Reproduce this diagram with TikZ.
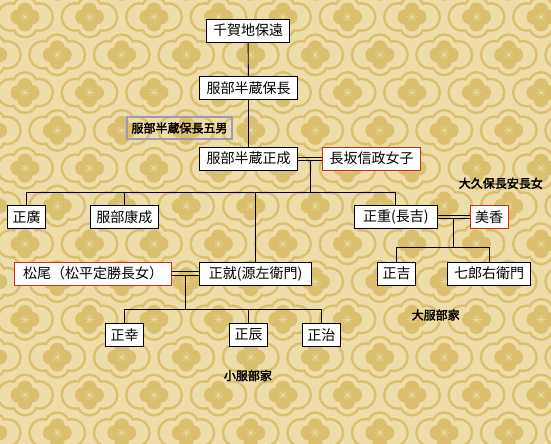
\documentclass[tikz,border=0pt]{standalone}
\usepackage{fontspec}
\setmainfont{Noto Sans CJK JP}
\newfontfamily\heavyjp[FakeBold=2.5]{Noto Sans CJK JP}
\usetikzlibrary{calc}

\definecolor{cream}{RGB}{237,221,168}
\definecolor{gold}{RGB}{217,191,110}
\definecolor{wifered}{RGB}{205,45,30}
\definecolor{notegray}{RGB}{160,152,180}

\tikzset{
  person/.style={draw=black, fill=white, line width=0.9pt, inner sep=0pt,
    minimum height=23pt, font=\fontsize{14}{14}\selectfont},
  wife/.style={person, draw=wifered},
  note/.style={font=\heavyjp\fontsize{12}{12}\selectfont, inner sep=0pt},
  flower/.pic={
    % cloud band
    \draw[gold, line width=5pt] (14,0) circle (12.5) (-14,0) circle (12.5)
      (0,8) circle (11) (0,-8) circle (11);
    \fill[cream] (14,0) circle (12.5) (-14,0) circle (12.5)
      (0,8) circle (11) (0,-8) circle (11);
    % flower
    \fill[gold] (0,-7) circle (7.5) (0,7) circle (7.5) (-7,0) circle (7.5) (7,0) circle (7.5);
    \draw[cream, line width=0.5pt] (-5,0) -- (5,0) (0,-5) -- (0,5)
      (-3.5,-3.5) -- (3.5,3.5) (-3.5,3.5) -- (3.5,-3.5);
  }
}

\begin{document}
\begin{tikzpicture}[x=1pt,y=-1pt]
  \useasboundingbox (0,0) rectangle (551,444);

  % Background pattern
  \begin{scope}
    \clip (0,0) rectangle (551,444);
    \fill[cream] (0,0) rectangle (551,444);
    \foreach \r in {-1,...,12} {
      \foreach \c in {-1,...,9} {
        \pgfmathsetmacro{\px}{25+64.5*\c+32.25*mod(\r+2,2)}
        \pgfmathsetmacro{\py}{17+37.8*\r}
        \pic at (\px,\py) {flower};
      }
    }
  \end{scope}

  % Generations
  \node[person, minimum width=82.6pt] (n1) at (248,30.7) {千賀地保遠};
  \node[person, minimum width=98.4pt] (n2) at (248.5,88) {服部半蔵保長};
  \node[person, minimum width=98.4pt] (n3) at (248.5,158.7) {服部半蔵正成};
  \node[wife, minimum width=98pt] (w3) at (371.7,158.7) {長坂信政女子};

  \node[person, minimum width=38pt] (c1) at (26.7,217) {正廣};
  \node[person, minimum width=67.3pt] (c2) at (124.3,217) {服部康成};
  \node[person, minimum width=83.3pt] (c3) at (395.8,217) {正重(長吉)};
  \node[wife, minimum width=38.4pt] (w4) at (489.2,217) {美香};

  \node[wife, minimum width=156.7pt] (w5) at (93.1,273.5) {松尾（松平定勝長女）};
  \node[person, minimum width=112.1pt] (c4) at (255.6,273.5) {正就(源左衛門)};
  \node[person, minimum width=38pt] (g1) at (396.7,273.5) {正吉};
  \node[person, minimum width=83.3pt] (g2) at (489,273.5) {七郎右衛門};

  \node[person, minimum width=38.3pt] (g3) at (124.5,334.7) {正幸};
  \node[person, minimum width=38.3pt] (g4) at (248.5,334.7) {正辰};
  \node[person, minimum width=38.3pt] (g5) at (321.3,334.7) {正治};

  % Notes
  \node[note, draw=notegray, line width=2.5pt, minimum width=105pt, minimum height=22pt]
    (t1) at (179.5,128) {服部半蔵保長五男};
  \node[note] (t2) at (500.8,183.3) {大久保長安長女};
  \node[note] (t3) at (435.7,315) {大服部家};
  \node[note] (t4) at (247.9,375.6) {小服部家};

  % Bus lines
  \coordinate (b1) at (0,192.3);
  \coordinate (b2) at (0,247.5);
  \coordinate (b3) at (0,309.9);

  \begin{scope}[line width=0.9pt]
    \draw (n1) -- (n2);
    \draw (n2) -- (n3);

    % Marriages
    \draw ([yshift=1.6pt]n3.east) -- ([yshift=1.6pt]w3.west)
          ([yshift=-1.9pt]n3.east) -- ([yshift=-1.9pt]w3.west);
    \draw ([yshift=1.6pt]c3.east) -- ([yshift=1.6pt]w4.west)
          ([yshift=-1.9pt]c3.east) -- ([yshift=-1.9pt]w4.west);
    \draw ([yshift=1.6pt]w5.east) -- ([yshift=1.6pt]c4.west)
          ([yshift=-1.9pt]w5.east) -- ([yshift=-1.9pt]c4.west);

    \coordinate (m1) at ($(n3.east)!0.5!(w3.west)$);
    \coordinate (m2) at ($(c3.east)!0.5!(w4.west)$);
    \coordinate (m3) at ($(w5.east)!0.5!(c4.west)$);

    % Children of 正成
    \draw ([yshift=-1.9pt]m1) -- (m1 |- b1);
    \draw (c1.north) -- (c1.north |- b1) -- (c3.north |- b1) -- (c3.north);
    \draw (c2.north) -- (c2.north |- b1);
    \draw (c4.north) -- (c4.north |- b1);

    % Children of 正重
    \draw ([yshift=-1.9pt]m2) -- (m2 |- b2);
    \draw (g1.north) -- (g1.north |- b2) -- (g2.north |- b2) -- (g2.north);

    % Children of 正就
    \draw ([yshift=-1.9pt]m3) -- (m3 |- b3);
    \draw (g3.north) -- (g3.north |- b3) -- (g5.north |- b3) -- (g5.north);
    \draw (g4.north) -- (g4.north |- b3);
  \end{scope}
\end{tikzpicture}
\end{document}
